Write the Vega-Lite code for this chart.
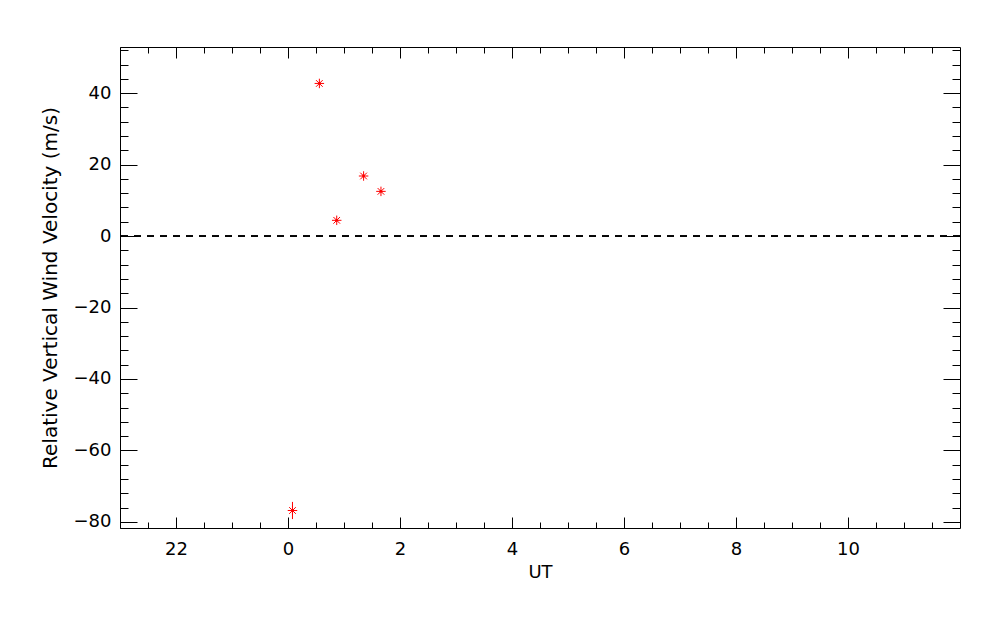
{
  "$schema": "https://vega.github.io/schema/vega-lite/v6.json",
  "width": 840,
  "height": 481,
  "autosize": "none",
  "padding": {"left": 120, "top": 47, "right": 40, "bottom": 97},
  "background": "white",
  "config": {
    "view": {"stroke": "black", "strokeWidth": 1},
    "axis": {
      "grid": false,
      "domain": false,
      "labelFont": "DejaVu Sans",
      "titleFont": "DejaVu Sans",
      "labelFontSize": 18,
      "titleFontSize": 18,
      "labelColor": "black",
      "titleColor": "black",
      "tickColor": "black",
      "titleFontWeight": "normal",
      "labelFlush": false,
      "labelOverlap": false,
      "tickWidth": 1
    }
  },
  "data": {
    "values": [
      {"ut": 0.08, "v": -76.8},
      {"ut": 0.56, "v": 42.7},
      {"ut": 0.87, "v": 4.4},
      {"ut": 1.35, "v": 16.8},
      {"ut": 1.66, "v": 12.5}
    ]
  },
  "resolve": {"axis": {"x": "independent", "y": "independent"}},
  "layer": [
    {
      "mark": {"type": "rule", "strokeDash": [7, 6], "color": "black", "strokeWidth": 1},
      "encoding": {
        "y": {"datum": 0, "type": "quantitative", "scale": {"domain": [-81.7, 52.9], "nice": false, "zero": false}, "axis": null}
      }
    },
    {
      "data": {"values": [{"ut": 0.08, "lo": -79.2, "hi": -74.4}]},
      "mark": {"type": "rule", "color": "#ff0000", "strokeWidth": 1},
      "encoding": {
        "x": {"field": "ut", "type": "quantitative", "scale": {"domain": [-3, 12], "nice": false, "zero": false}, "axis": null},
        "y": {"field": "lo", "type": "quantitative", "scale": {"domain": [-81.7, 52.9], "nice": false, "zero": false}, "axis": null},
        "y2": {"field": "hi"}
      }
    },
    {
      "mark": {
        "type": "point",
        "shape": "M-1,0L1,0M0,-1L0,1M-0.7,-0.7L0.7,0.7M-0.7,0.7L0.7,-0.7",
        "filled": false,
        "stroke": "#ff0000",
        "strokeWidth": 1,
        "size": 90,
        "opacity": 1
      },
      "encoding": {
        "x": {
          "field": "ut", "type": "quantitative",
          "scale": {"domain": [-3, 12], "nice": false, "zero": false},
          "axis": {
            "orient": "bottom",
            "title": "UT",
            "values": [-3, -2.5, -2, -1.5, -1, -0.5, 0, 0.5, 1, 1.5, 2, 2.5, 3, 3.5, 4, 4.5, 5, 5.5, 6, 6.5, 7, 7.5, 8, 8.5, 9, 9.5, 10, 10.5, 11, 11.5],
            "labelExpr": "datum.value % 2 === 0 ? ((datum.value < 0 ? datum.value + 24 : datum.value) + '') : ''",
            "tickSize": {"condition": {"test": "datum.value % 2 === 0", "value": -11}, "value": -6},
            "labelPadding": 23,
            "titleBaseline": "middle",
            "titleY": 44
          }
        },
        "y": {
          "field": "v", "type": "quantitative",
          "scale": {"domain": [-81.7, 52.9], "nice": false, "zero": false},
          "axis": {
            "orient": "left",
            "title": "Relative Vertical Wind Velocity (m/s)",
            "titleFontSize": 20,
            "values": [-80, -76, -72, -68, -64, -60, -56, -52, -48, -44, -40, -36, -32, -28, -24, -20, -16, -12, -8, -4, 0, 4, 8, 12, 16, 20, 24, 28, 32, 36, 40, 44, 48, 52],
            "labelExpr": "datum.value % 20 === 0 ? datum.label : ''",
            "tickSize": {"condition": {"test": "datum.value % 20 === 0", "value": -17}, "value": -8},
            "labelPadding": 26,
            "titleBaseline": "middle",
            "titleX": -70
          }
        }
      }
    },
    {
      "mark": {"type": "point", "shape": "circle", "filled": true, "color": "#ff0000", "size": 8, "opacity": 1},
      "encoding": {
        "x": {
          "field": "ut", "type": "quantitative",
          "scale": {"domain": [-3, 12], "nice": false, "zero": false},
          "axis": {
            "orient": "top",
            "title": null,
            "labels": false,
            "values": [-3, -2.5, -2, -1.5, -1, -0.5, 0, 0.5, 1, 1.5, 2, 2.5, 3, 3.5, 4, 4.5, 5, 5.5, 6, 6.5, 7, 7.5, 8, 8.5, 9, 9.5, 10, 10.5, 11, 11.5],
            "tickSize": {"condition": {"test": "datum.value % 2 === 0", "value": -11}, "value": -6}
          }
        },
        "y": {
          "field": "v", "type": "quantitative",
          "scale": {"domain": [-81.7, 52.9], "nice": false, "zero": false},
          "axis": {
            "orient": "right",
            "title": null,
            "labels": false,
            "values": [-80, -76, -72, -68, -64, -60, -56, -52, -48, -44, -40, -36, -32, -28, -24, -20, -16, -12, -8, -4, 0, 4, 8, 12, 16, 20, 24, 28, 32, 36, 40, 44, 48, 52],
            "tickSize": {"condition": {"test": "datum.value % 20 === 0", "value": -17}, "value": -8}
          }
        }
      }
    }
  ]
}
